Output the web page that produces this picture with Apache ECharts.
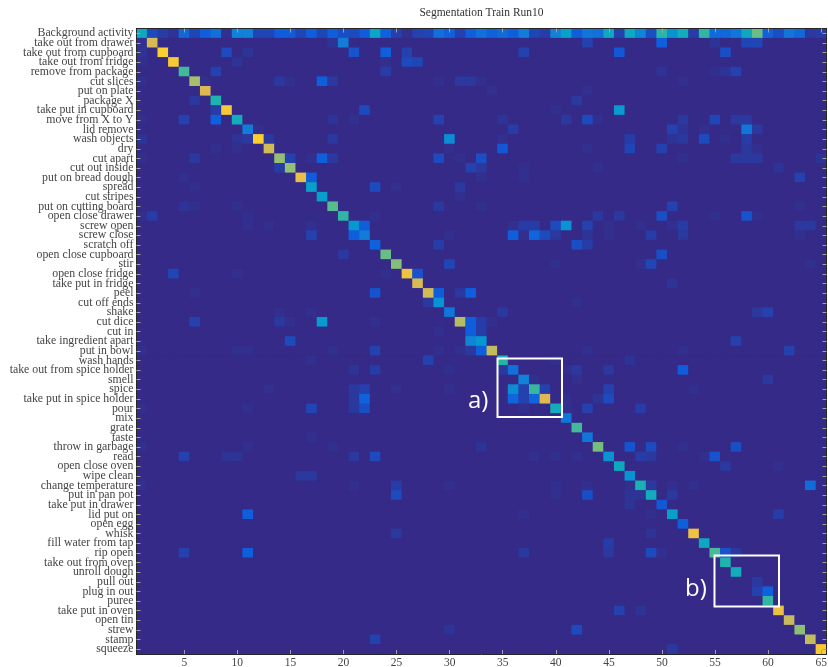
<!DOCTYPE html>
<html>
<head>
<meta charset="utf-8">
<style>
  html, body { margin: 0; padding: 0; background: #fff; }
  #main { width: 828px; height: 667px; }
</style>
<script src="https://cdn.jsdelivr.net/npm/echarts@6/dist/echarts.min.js"></script>
</head>
<body>
<div id="main"></div>
<script>
const activities = [
  'Background activity', 'take out from drawer', 'take out from cupboard', 'take out from fridge',
  'remove from package', 'cut slices', 'put on plate', 'package X', 'take put in cupboard',
  'move from X to Y', 'lid remove', 'wash objects', 'dry', 'cut apart', 'cut out inside',
  'put on bread dough', 'spread', 'cut stripes', 'put on cutting board', 'open close drawer',
  'screw open', 'screw close', 'scratch off', 'open close cupboard', 'stir', 'open close fridge',
  'take put in fridge', 'peel', 'cut off ends', 'shake', 'cut dice', 'cut in',
  'take ingredient apart', 'put in bowl', 'wash hands', 'take out from spice holder', 'smell',
  'spice', 'take put in spice holder', 'pour', 'mix', 'grate', 'taste', 'throw in garbage', 'read',
  'open close oven', 'wipe clean', 'change temperature', 'put in pan pot', 'take put in drawer',
  'lid put on', 'open egg', 'whisk', 'fill water from tap', 'rip open', 'take out from oven',
  'unroll dough', 'pull out', 'plug in out', 'puree', 'take put in oven', 'open tin', 'strew',
  'stamp', 'squeeze'
]

// first row of the matrix, columns 1..65
const backgroundRow = [
  .40, .07, .04, .02, .15, .06, .12, .18, .01, .24, .24, .06, .06, .11, .11, .06, .12, .06, .12, .08,
  .07, .11, .38, .13, .05, .01, .05, .06, .18, .13, .05, .12, .18, .13, .16, .12, .22, .06, .04, .24,
  .35, .12, .20, .18, .40, .05, .40, .25, .08, .48, .30, .42, .04, .49, .16, .15, .20, .40, .58, .13,
  .08, .20, .15, .03, .04
]

// diagonal, activities 1..65
const diagonal = [
  .40, .76, .89, .87, .52, .67, .77, .46, .86, .42, .22, .89, .75, .64, .64, .81, .35, .35, .55, .49,
  .32, .22, .13, .58, .62, .83, .76, .75, .30, .20, .70, .12, .32, .72, .47, .18, .24, .50, .78, .42,
  .20, .52, .20, .60, .30, .40, .30, .45, .42, .10, .35, .12, .83, .40, .53, .46, .42, 0, .05, .49,
  .82, .73, .63, .72, .87
]

// confusions, [row, column, value], 1-based
const confusions = [
  [2,1,.01],[2,19,.02],[2,20,.22],[2,43,.05],[2,50,.12],[2,55,.02],[2,58,.06],[2,59,.06],
  [3,1,.02],[3,9,.07],[3,11,.02],[3,21,.09],[3,24,.12],[3,26,.05],[3,37,.05],[3,46,.10],[3,56,.08],
  [4,1,.01],[4,10,.02],[4,24,.01],[4,26,.07],[4,27,.06],
  [5,8,.05],[5,24,.04],[5,50,.02],[5,55,.01],[5,56,.02],[5,57,.05],
  [6,1,.01],[6,7,.01],[6,14,.03],[6,15,.01],[6,18,.12],[6,19,.03],[6,29,.01],[6,31,.03],[6,32,.03],[6,33,.01],[6,52,.01],
  [7,34,.01],[7,43,.01],
  [8,6,.03],[8,42,.03],
  [9,8,.04],[9,22,.07],[9,40,.01],[9,46,.33],
  [10,1,.01],[10,5,.05],[10,8,.12],[10,19,.02],[10,21,.01],[10,29,.05],[10,35,.02],[10,41,.03],[10,43,.07],[10,44,.01],[10,52,.03],[10,55,.06],[10,57,.03],[10,58,.03],
  [11,12,.01],[11,36,.04],[11,51,.05],[11,52,.02],[11,54,.01],[11,58,.20],[11,59,.03],
  [12,1,.02],[12,10,.02],[12,11,.03],[12,13,.03],[12,19,.03],[12,30,.28],[12,35,.01],[12,47,.04],[12,51,.02],[12,52,.03],[12,54,.07],[12,56,.01],[12,58,.04],
  [13,8,.01],[13,10,.01],[13,30,.01],[13,35,.10],[13,43,.01],[13,47,.06],[13,50,.05],[13,58,.03],[13,59,.01],
  [14,1,.01],[14,6,.03],[14,15,.05],[14,17,.01],[14,18,.12],[14,19,.03],[14,29,.07],[14,31,.01],[14,33,.08],[14,52,.01],[14,57,.03],[14,58,.03],[14,59,.03],[14,65,.02],
  [15,14,.04],[15,32,.05],[15,33,.03],[15,37,.01],[15,44,.01],[15,61,.02],
  [16,5,.01],[16,17,.11],[16,33,.01],[16,37,.01],[16,63,.05],
  [17,6,.01],[17,23,.07],[17,25,.01],[17,31,.03],
  [18,31,.01],
  [19,5,.02],[19,6,.01],[19,10,.01],[19,29,.03],[19,33,.01],[19,51,.05],[19,63,.01],
  [20,1,.01],[20,2,.04],[20,11,.01],[20,23,.01],[20,44,.03],[20,46,.03],[20,50,.08],[20,55,.01],[20,58,.09],[20,59,.01],
  [21,11,.01],[21,13,.01],[21,17,.01],[21,22,.12],[21,36,.01],[21,37,.04],[21,38,.04],[21,40,.07],[21,41,.30],[21,43,.05],[21,45,.01],[21,48,.01],[21,51,.01],[21,52,.04],[21,63,.03],[21,64,.03],
  [22,17,.05],[22,21,.12],[22,30,.01],[22,36,.12],[22,37,.01],[22,38,.14],[22,39,.07],[22,40,.03],[22,43,.02],[22,45,.01],[22,49,.04],[22,52,.03],[22,63,.01],
  [23,29,.04],[23,42,.08],[23,43,.04],
  [24,20,.03],[24,50,.08],
  [25,30,.06],[25,40,.01],[25,48,.01],[25,49,.06],[25,64,.01],
  [26,4,.06],[26,10,.01],[26,24,.01],[26,27,.09],
  [27,51,.02],
  [28,6,.01],[28,23,.09],[28,29,.11],[28,31,.03],[28,32,.12],
  [29,28,.03],[29,42,.01],
  [30,14,.01],[30,17,.01],[30,35,.03],[30,59,.03],[30,60,.05],
  [31,6,.05],[31,14,.03],[31,15,.01],[31,18,.33],[31,23,.01],[31,32,.12],[31,33,.04],[31,34,.01],
  [32,29,.01],[32,33,.04],
  [33,15,.07],[33,32,.25],[33,57,.05],
  [34,1,.01],[34,10,.01],[34,11,.01],[34,19,.01],[34,23,.05],[34,29,.01],[34,31,.01],[34,32,.03],[34,33,.12],[34,43,.01],[34,52,.01],[34,62,.05],
  [35,17,.01],[35,28,.05],[35,40,.01],[35,47,.02],
  [36,21,.02],[36,23,.04],[36,30,.01],[36,35,.03],[36,41,.01],[36,42,.03],[36,45,.03],[36,52,.11],
  [37,38,.01],[37,42,.01],[37,60,.03],
  [38,13,.01],[38,21,.03],[38,22,.05],[38,25,.01],[38,30,.01],[38,36,.28],[38,37,.05],[38,39,.05],[38,45,.05],[38,53,.01],
  [39,21,.03],[39,22,.13],[39,36,.14],[39,37,.05],[39,38,.14],[39,41,.01],[39,44,.02],[39,45,.07],
  [40,1,.01],[40,11,.01],[40,17,.06],[40,21,.03],[40,22,.08],[40,37,.01],[40,41,.01],[40,43,.05],[40,48,.04],
  [43,17,.01],
  [44,1,.01],[44,11,.01],[44,19,.01],[44,33,.02],[44,47,.09],[44,49,.07],[44,52,.01],[44,57,.08],
  [45,5,.05],[45,9,.02],[45,10,.02],[45,21,.03],[45,23,.07],[45,38,.01],[45,40,.01],[45,42,.01],[45,48,.04],[45,49,.03],[45,54,.01],[45,55,.09],
  [46,56,.03],[46,61,.01],
  [47,16,.03],[47,17,.03],
  [48,1,.01],[48,21,.01],[48,25,.04],[48,30,.01],[48,40,.01],[48,43,.01],[48,47,.01],[48,49,.03],[48,51,.01],[48,53,.01],[48,64,.16],
  [49,25,.07],[49,40,.01],[49,43,.08],[49,47,.02],[49,48,.02],[49,51,.03],
  [50,47,.02],
  [51,11,.12],[51,37,.01],[51,49,.01],[51,61,.04],
  [53,25,.03],[53,49,.02],
  [54,45,.04],
  [55,5,.05],[55,11,.12],[55,37,.03],[55,45,.03],[55,49,.07],[55,50,.01],[55,56,.09],[55,57,.03],
  [58,59,.03],
  [59,60,.13],
  [61,46,.05],[61,48,.02],
  [63,30,.02],[63,42,.07],
  [64,23,.05],
  [65,51,.03]
]

const parula = [
  '#352a87', '#0f5cdd', '#127dd8', '#079ccf', '#15b1b4',
  '#59bd8c', '#a5be6b', '#e1b952', '#fcce2e', '#f9fb0e'
]

const matrix = activities.map(() => activities.map(() => 0))
backgroundRow.forEach((v, c) => { matrix[0][c] = v })
diagonal.forEach((v, i) => { matrix[i][i] = v })
confusions.forEach(([r, c, v]) => { matrix[r - 1][c - 1] = v })

const cells = []
matrix.forEach((row, r) => row.forEach((v, c) => cells.push([c, r, v])))

const columns = activities.map((_, i) => String(i + 1))
const everyFifth = i => (i + 1) % 5 === 0
const serif = '"Liberation Serif", "DejaVu Serif", serif'

const xBase = {
  type: 'category',
  data: columns,
  z: 10,
  axisLine: { lineStyle: { color: '#262626', width: 1 } },
  axisTick: { show: true, inside: true, length: 4, alignWithLabel: true, interval: everyFifth, lineStyle: { color: '#a0a0a0', width: 1 } },
  splitLine: { show: false },
  splitArea: { show: false }
}
const yBase = {
  type: 'category',
  data: activities,
  inverse: true,
  z: 10,
  axisLine: { lineStyle: { color: '#262626', width: 1 } },
  axisTick: { show: true, inside: true, length: 4, alignWithLabel: true, interval: 0, lineStyle: { color: '#a0a0a0', width: 1 } },
  splitLine: { show: false },
  splitArea: { show: false }
}

const chart = echarts.init(document.getElementById('main'), null, { renderer: 'canvas' })

chart.setOption({
  animation: false,
  backgroundColor: '#fff',
  textStyle: { fontFamily: serif },
  title: {
    text: 'Segmentation Train Run10',
    left: 476.5,
    top: 2,
    textAlign: 'center',
    textStyle: { fontFamily: serif, fontSize: 11.5, fontWeight: 'normal', color: '#333' }
  },
  // same colour behind the cells so the seams between them do not show
  // outerBoundsMode none: otherwise echarts shrinks the grid to keep the labels on the page
  grid: {
    left: 136.5, top: 28.5, width: 690, height: 625.5,
    show: true, backgroundColor: parula[0], borderWidth: 0,
    outerBoundsMode: 'none'
  },
  xAxis: [
    {
      ...xBase,
      position: 'bottom',
      axisLabel: { interval: everyFifth, margin: 3, fontFamily: serif, fontSize: 11.5, color: '#444' }
    },
    { ...xBase, position: 'top', axisLabel: { show: false } }
  ],
  yAxis: [
    {
      ...yBase,
      position: 'left',
      axisLabel: { interval: 0, margin: 3, padding: [2, 0, 0, 0], fontFamily: serif, fontSize: 11.8, color: '#444' }
    },
    { ...yBase, position: 'right', axisLabel: { show: false } }
  ],
  visualMap: {
    show: false,
    min: 0,
    max: 1,
    dimension: 2,
    seriesIndex: 0,
    inRange: { color: parula }
  },
  series: [
    {
      type: 'heatmap',
      z: 1,
      data: cells,
      xAxisIndex: 0,
      yAxisIndex: 0,
      itemStyle: { borderWidth: 0 },
      emphasis: { disabled: true },
      progressive: 0
    }
  ],
  graphic: [
    { type: 'rect', z: 100, shape: { x: 497.5, y: 358.5, width: 64.5, height: 58.5 }, style: { fill: null, stroke: '#fff', lineWidth: 2 } },
    { type: 'rect', z: 100, shape: { x: 714.5, y: 555.5, width: 64.5, height: 51 }, style: { fill: null, stroke: '#fff', lineWidth: 2 } },
    { type: 'text', z: 100, x: 468, y: 389, style: { text: 'a)', fill: '#fff', font: '24px "Open Sans", sans-serif' } },
    { type: 'text', z: 100, x: 685, y: 577, style: { text: 'b)', fill: '#fff', font: '24px "Open Sans", sans-serif' } }
  ]
})
</script>
</body>
</html>
